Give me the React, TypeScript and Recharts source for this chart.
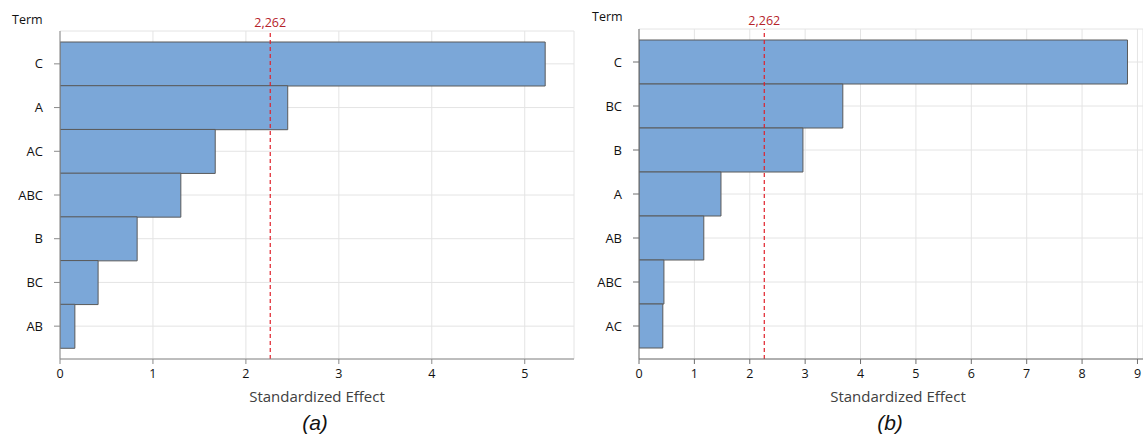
import React from 'react';
import { BarChart, Bar, XAxis, YAxis, CartesianGrid, ReferenceLine } from 'recharts';

const termsA = ['C', 'A', 'AC', 'ABC', 'B', 'BC', 'AB'];
const effectsA = [5.22, 2.45, 1.67, 1.3, 0.83, 0.41, 0.16];
const termsB = ['C', 'BC', 'B', 'A', 'AB', 'ABC', 'AC'];
const effectsB = [8.82, 3.68, 2.96, 1.48, 1.17, 0.45, 0.43];
const ticksA = [0, 1, 2, 3, 4, 5];
const ticksB = [0, 1, 2, 3, 4, 5, 6, 7, 8, 9];
const critical = 2.262;
const criticalLabel = '2,262';

const FONT = '"Open Sans", "Noto Sans", sans-serif';
const BAR_FILL = '#7ba7d8';
const BAR_STROKE = '#5a5a5a';
const GRID = '#e4e4e4';

type PanelProps = {
  terms: string[];
  effects: number[];
  ticks: number[];
  max: number;
  left: number;
  width: number;
  top: number;
  marginLeft: number;
  marginRight: number;
  caption: string;
  termX: number;
  termY: number;
  titleX: number;
  captionX: number;
  axisColor: string;
};

function Panel(p: PanelProps) {
  const data = p.terms.map((t, i) => ({ term: t, effect: p.effects[i] }));
  return (
    <div style={{ position: 'absolute', left: p.left, top: 0, width: p.width, height: 436 }}>
      <BarChart
        width={p.width}
        height={436}
        data={data}
        layout="vertical"
        barCategoryGap={0}
        margin={{ top: p.top, right: p.marginRight, left: p.marginLeft, bottom: 47 }}
      >
        <CartesianGrid stroke={GRID} strokeWidth={1} />
        <XAxis
          type="number"
          dataKey="effect"
          domain={[0, p.max]}
          ticks={p.ticks}
          allowDataOverflow
          height={30}
          tickSize={5}
          tickMargin={5}
          stroke={p.axisColor}
          tick={{ fill: '#111', fontSize: 12.5, fontFamily: FONT }}
        />
        <XAxis
          xAxisId="top"
          orientation="top"
          type="number"
          domain={[0, p.max]}
          allowDataOverflow
          height={0}
          tick={false}
          tickLine={false}
          stroke={p.axisColor}
        />
        <YAxis
          type="category"
          dataKey="term"
          width={50}
          padding={{ top: 11, bottom: 11 }}
          tickSize={6}
          tickMargin={11}
          stroke={p.axisColor}
          tick={{ fill: '#111', fontSize: 13, fontFamily: FONT }}
        />
        <YAxis
          yAxisId="right"
          orientation="right"
          type="category"
          dataKey="term"
          width={0}
          tick={false}
          tickLine={false}
          stroke={p.axisColor}
        />
        <Bar
          dataKey="effect"
          fill={BAR_FILL}
          stroke={BAR_STROKE}
          strokeWidth={1}
          isAnimationActive={false}
        />
        <ReferenceLine
          x={critical}
          stroke="#e0202a"
          strokeDasharray="4 3"
          strokeWidth={1.2}
          label={{ value: criticalLabel, position: 'top', offset: 4, fill: '#b5222a', fontSize: 12.5, fontFamily: FONT }}
        />
      </BarChart>
      <div style={{ position: 'absolute', left: p.termX, top: p.termY, fontFamily: FONT, fontSize: 12.5, color: '#111', lineHeight: '14px' }}>
        Term
      </div>
      <div style={{ position: 'absolute', left: p.titleX - 100, width: 200, top: 386, textAlign: 'center', fontFamily: FONT, fontSize: 15, color: '#404040', lineHeight: '20px' }}>
        Standardized Effect
      </div>
      <div style={{ position: 'absolute', left: p.captionX - 50, width: 100, top: 410, textAlign: 'center', fontFamily: '"Liberation Sans", Arial, sans-serif', fontStyle: 'italic', fontSize: 21, color: '#111', lineHeight: '26px' }}>
        {p.caption}
      </div>
    </div>
  );
}

export default function App() {
  return (
    <div style={{ position: 'absolute', left: 0, top: 0, width: 1143, height: 436, background: '#fff', overflow: 'hidden' }}>
      <Panel
        terms={termsA}
        effects={effectsA}
        ticks={ticksA}
        max={5.53}
        left={0}
        width={580}
        top={31}
        marginLeft={10}
        marginRight={6}
        caption="(a)"
        termX={12}
        termY={13}
        titleX={317}
        captionX={315}
        axisColor="#8a8a8a"
      />
      <Panel
        terms={termsB}
        effects={effectsB}
        ticks={ticksB}
        max={9.1}
        left={580}
        width={563}
        top={29}
        marginLeft={9}
        marginRight={0}
        caption="(b)"
        termX={12}
        termY={10}
        titleX={318}
        captionX={310}
        axisColor="#6e6e6e"
      />
    </div>
  );
}
